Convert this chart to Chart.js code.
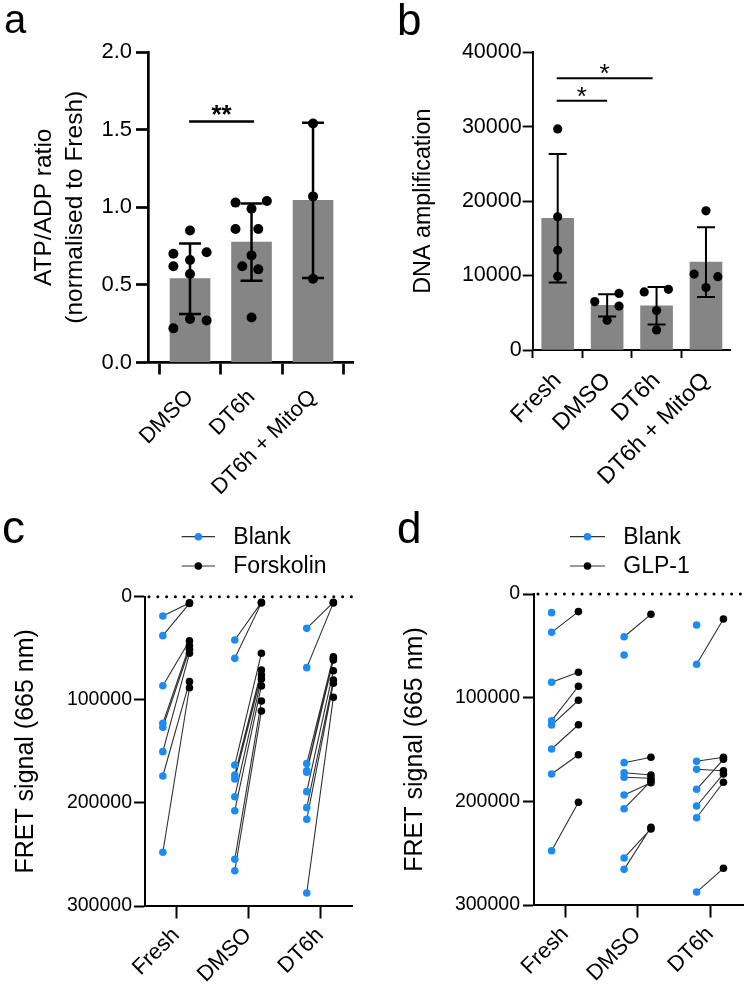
<!DOCTYPE html>
<html>
<head>
<meta charset="utf-8">
<title>ATP/ADP, DNA amplification and FRET panels</title>
<script src="https://cdn.jsdelivr.net/npm/chart.js@4.4.0/dist/chart.umd.min.js"></script>
<style>
  html, body { margin: 0; padding: 0; background: #fff; }
  #fig { position: relative; width: 749px; height: 988px; overflow: hidden; }
  #fig canvas { position: absolute; }
</style>
</head>
<body>
<div id="fig">
  <canvas id="chartC" width="375" height="498" style="left:0;top:490px"></canvas>
  <canvas id="chartD" width="374" height="498" style="left:375px;top:490px"></canvas>
  <canvas id="chartA" width="375" height="505" style="left:0;top:0"></canvas>
  <canvas id="chartB" width="374" height="505" style="left:375px;top:0"></canvas>
</div>
<script>
const FONT = '"Liberation Sans", Arial, Helvetica, sans-serif';
Chart.defaults.font.family = FONT;
Chart.defaults.color = '#000';
Chart.defaults.animation = false;

// ---- panel a: ATP/ADP ratio (normalised to Fresh) ----
const atpGroups = ['DMSO', 'DT6h', 'DT6h + MitoQ'];
const atpMean = [0.54, 0.775, 1.045];
const atpSD = [0.227, 0.249, 0.5];
const atpDots = [
  [0.85, 0.70, 0.66, 0.71, 0.62, 0.57, 0.22, 0.28, 0.27],
  [1.03, 1.04, 0.99, 0.86, 0.86, 0.69, 0.62, 0.60, 0.29],
  [1.54, 1.07, 0.54]
];
// horizontal scatter of the dots, in category units
const atpSpread = [
  [0, -0.27, 0, 0.27, -0.27, 0, -0.27, 0, 0.27],
  [-0.26, 0.25, 0, -0.26, 0.11, 0, -0.15, 0.11, 0],
  [0, 0, 0]
];
const atpSig = [{ from: 0.985, to: 2.04, y: 1.553, label: '**' }];

// ---- panel b: DNA amplification ----
const dnaGroups = ['Fresh', 'DMSO', 'DT6h', 'DT6h + MitoQ'];
const dnaMean = [17700, 6000, 5950, 11800];
const dnaSD = [8620, 1500, 2525, 4680];
const dnaDots = [
  [29700, 17900, 13400, 9900],
  [6500, 7600, 5900, 4000],
  [7800, 8150, 5300, 2700],
  [18700, 10200, 9850, 8400]
];
const dnaSpread = [
  [0, 0, 0, 0],
  [-0.25, 0.24, 0.24, 0],
  [-0.25, 0.24, 0, 0],
  [0, -0.24, 0.24, 0]
];
const dnaSig = [
  { from: 0.98, to: 2.92, y: 36500, label: '*' },
  { from: 0.98, to: 2.0, y: 33500, label: '*' }
];

// ---- panels c and d: FRET signal (665 nm), paired wells ----
const fretGroups = ['Fresh', 'DMSO', 'DT6h'];
const cBlank = [
  [18700, 37800, 86300, 122800, 126700, 150300, 173900, 247900],
  [42000, 59800, 163300, 172900, 176800, 194000, 207600, 254700, 265800],
  [30700, 68800, 161900, 168800, 170300, 189100, 204600, 215900, 287400]
];
const cForskolin = [
  [6000, 6500, 42700, 47500, 51000, 54900, 82400, 88300],
  [5500, 6000, 54800, 71100, 75900, 79800, 86500, 101200, 110800],
  [5500, 6000, 58200, 60000, 61400, 71800, 80800, 84000, 97600]
];
const dBlank = [
  [18000, 37000, 85200, 122200, 126400, 149500, 173600, 247600],
  [41200, 58800, 162700, 172500, 176700, 193900, 207100, 254600, 265600],
  [29900, 67800, 161400, 169100, 188400, 204500, 215800, 287500]
];
const dGLP1 = [
  [null, 17000, 75500, 89000, 102500, 126100, 155000, 200900],
  [19600, null, 157500, 174600, 177800, 182000, 180400, 226600, 225000],
  [null, 24100, 157500, 170500, 159500, 173600, 181600, 264600]
];
const fretTicks = [0, 100000, 200000, 300000];

const BLUE = '#1c8cf2';
const pairOffset = 0.185;

// error bars (mean +/- SD) drawn right after the bars
const errorBars = {
  id: 'errorBars',
  afterDatasetDraw(chart, args, opts) {
    const ds = chart.data.datasets[args.index];
    if (!ds.sd) return;
    const { ctx, scales: { x, y } } = chart;
    ctx.save();
    ctx.strokeStyle = '#000';
    ctx.lineWidth = opts.width;
    ds.data.forEach((pt, i) => {
      const px = x.getPixelForValue(pt.x);
      const top = y.getPixelForValue(pt.y + ds.sd[i]);
      const bot = y.getPixelForValue(pt.y - ds.sd[i]);
      ctx.beginPath();
      ctx.moveTo(px, top); ctx.lineTo(px, bot);
      ctx.moveTo(px - opts.cap, top); ctx.lineTo(px + opts.cap, top);
      ctx.moveTo(px - opts.cap, bot); ctx.lineTo(px + opts.cap, bot);
      ctx.stroke();
    });
    ctx.restore();
  }
};

// significance lines with asterisks
const sigBars = {
  id: 'sigBars',
  afterDraw(chart, args, opts) {
    if (!opts.items) return;
    const { ctx, scales: { x, y } } = chart;
    ctx.save();
    ctx.strokeStyle = '#000';
    ctx.fillStyle = '#000';
    ctx.lineWidth = opts.width;
    ctx.font = opts.font;
    ctx.textAlign = 'center';
    ctx.textBaseline = 'alphabetic';
    opts.items.forEach(it => {
      const x1 = x.getPixelForValue(it.from);
      const x2 = x.getPixelForValue(it.to);
      const py = y.getPixelForValue(it.y);
      ctx.beginPath();
      ctx.moveTo(x1, py); ctx.lineTo(x2, py);
      ctx.stroke();
      const m = ctx.measureText(it.label);
      ctx.fillText(it.label, (x1 + x2) / 2, py - opts.gap - m.actualBoundingBoxDescent);
    });
    ctx.restore();
  }
};

// panel letter, dotted zero line and the small legend
const decor = {
  id: 'decor',
  beforeDatasetsDraw(chart, args, opts) {
    if (!opts.zeroLine) return;
    const { ctx, chartArea, scales: { y } } = chart;
    const py = y.getPixelForValue(0);
    ctx.save();
    ctx.strokeStyle = '#000';
    ctx.lineWidth = 3;
    ctx.lineCap = 'round';
    ctx.setLineDash([0, 8.8]);
    ctx.beginPath();
    ctx.moveTo(chartArea.left + 4, py);
    ctx.lineTo(chartArea.right, py);
    ctx.stroke();
    ctx.restore();
  },
  afterDraw(chart, args, opts) {
    const { ctx } = chart;
    ctx.save();
    ctx.fillStyle = '#000';
    ctx.font = opts.letterSize + 'px ' + FONT;
    ctx.textBaseline = 'alphabetic';
    ctx.fillText(opts.letter, opts.letterX, opts.letterY);
    if (opts.legend) {
      const L = opts.legend;
      L.items.forEach((it, i) => {
        const ly = L.y + i * L.step;
        ctx.strokeStyle = '#333';
        ctx.lineWidth = 1.2;
        ctx.beginPath();
        ctx.moveTo(L.x1, ly); ctx.lineTo(L.x2, ly);
        ctx.stroke();
        ctx.fillStyle = it.color;
        ctx.beginPath();
        ctx.arc((L.x1 + L.x2) / 2, ly, 3.8, 0, Math.PI * 2);
        ctx.fill();
        ctx.fillStyle = '#000';
        ctx.font = L.size + 'px ' + FONT;
        ctx.textBaseline = 'middle';
        ctx.fillText(it.label, L.textX, ly + 1);
      });
    }
    ctx.restore();
  }
};

function axisStyle(w, tick) {
  return {
    grid: { drawOnChartArea: false, drawTicks: true, tickLength: tick, tickWidth: w, tickColor: '#000', color: '#000' },
    border: { display: true, color: '#000', width: w }
  };
}

function barPanel(id, o) {
  const bars = o.groups.map((g, i) => ({ x: i + 1, y: o.mean[i] }));
  const dots = [];
  o.dots.forEach((vals, i) => vals.forEach((v, j) => dots.push({ x: i + 1 + o.spread[i][j], y: v })));
  return new Chart(document.getElementById(id), {
    type: 'bar',
    data: {
      datasets: [
        { data: bars, sd: o.sd, backgroundColor: '#858585', barThickness: o.barWidth, order: 2 },
        { type: 'scatter', data: dots, pointRadius: o.dotR, pointBackgroundColor: '#000',
          pointBorderWidth: 0, order: 1 }
      ]
    },
    plugins: [errorBars, sigBars, decor],
    options: {
      responsive: false,
      animation: false,
      events: [],
      layout: { padding: o.pad },
      plugins: {
        legend: { display: false },
        tooltip: { enabled: false },
        errorBars: { width: o.lineW, cap: o.cap },
        sigBars: { items: o.sig, width: o.lineW, font: o.starFont, gap: o.starGap },
        decor: o.decor
      },
      scales: {
        x: Object.assign({
          type: 'linear', min: o.xMin, max: o.xMax, offset: false,
          afterFit: s => { s.height = o.xH; },
          afterBuildTicks: s => { s.ticks = o.groups.map((g, i) => ({ value: i + 1 })); },
          ticks: { callback: v => o.groups[v - 1], minRotation: 45, maxRotation: 45, autoSkip: false,
                   font: { size: o.xFont }, padding: o.xPad, color: '#000' }
        }, axisStyle(o.axisW, o.xTick)),
        y: Object.assign({
          min: 0, max: o.yMax,
          afterFit: s => { s.width = o.yW; },
          ticks: { stepSize: o.yStep, callback: o.yFmt, font: { size: o.yFont }, padding: o.yPad, color: '#000' },
          title: { display: true, text: o.yTitle, color: '#000',
                   font: { size: o.titleSize, lineHeight: o.titleLH }, padding: { top: o.titlePad, bottom: 0 } }
        }, axisStyle(o.axisW, o.yTick))
      }
    }
  });
}

function pairPanel(id, o) {
  const lines = [], base = [], treated = [];
  fretGroups.forEach((g, gi) => {
    const bx = gi + 1 - pairOffset, tx = gi + 1 + pairOffset;
    o.base[gi].forEach((v, i) => {
      const t = o.treated[gi][i];
      base.push({ x: bx, y: v });
      if (t == null) return;
      treated.push({ x: tx, y: t });
      lines.push({ x: bx, y: v }, { x: tx, y: t }, { x: tx, y: null });
    });
  });
  return new Chart(document.getElementById(id), {
    type: 'scatter',
    data: {
      datasets: [
        { type: 'line', data: lines, borderColor: '#303030', borderWidth: 1.1, pointRadius: 0,
          spanGaps: false, tension: 0, order: 3 },
        { data: base, pointRadius: 3.8, pointBackgroundColor: BLUE, pointBorderWidth: 0, order: 2 },
        { data: treated, pointRadius: 3.8, pointBackgroundColor: '#000', pointBorderWidth: 0, order: 1 }
      ]
    },
    plugins: [decor],
    options: {
      responsive: false,
      animation: false,
      events: [],
      layout: { padding: o.pad },
      plugins: {
        legend: { display: false },
        tooltip: { enabled: false },
        decor: o.decor
      },
      scales: {
        x: Object.assign({
          type: 'linear', min: o.xMin, max: o.xMax, offset: false,
          afterFit: s => { s.height = o.xH; },
          afterBuildTicks: s => { s.ticks = fretGroups.map((g, i) => ({ value: i + 1 })); },
          ticks: { callback: v => fretGroups[v - 1], minRotation: 45, maxRotation: 45, autoSkip: false,
                   font: { size: 22 }, padding: 4, color: '#000' }
        }, axisStyle(2, 12.5)),
        y: Object.assign({
          reverse: true, min: 0, max: 300000,
          afterFit: s => { s.width = o.yW; },
          afterBuildTicks: s => { s.ticks = fretTicks.map(v => ({ value: v })); },
          ticks: { callback: v => String(v), font: { size: 19.5 }, padding: o.yPad, color: '#000' },
          title: { display: true, text: 'FRET signal (665 nm)', color: '#000',
                   font: { size: 25, lineHeight: 1.2 }, padding: { top: o.titlePad, bottom: 0 } }
        }, axisStyle(2, 11))
      }
    }
  });
}

barPanel('chartA', {
  groups: atpGroups, mean: atpMean, sd: atpSD, dots: atpDots, spread: atpSpread, sig: atpSig,
  pad: { left: 0, top: 52, right: 22, bottom: 0 },
  xMin: 0.317, xMax: 3.65, xH: 142.5, yW: 148, yMax: 2, yStep: 0.5, yFmt: v => v.toFixed(1),
  barWidth: 40, dotR: 5, lineW: 2.5, cap: 11, axisW: 2.7, xTick: 12, yTick: 12,
  xFont: 22, yFont: 22, xPad: 10, yPad: 4,
  yTitle: ['ATP/ADP ratio', '(normalised to Fresh)'], titleSize: 24.5, titleLH: 1.28, titlePad: 28.5,
  starFont: 'bold 26px ' + FONT, starGap: 6.5,
  decor: { letter: 'a', letterSize: 40, letterX: 4, letterY: 33 }
});

barPanel('chartB', {
  groups: dnaGroups, mean: dnaMean, sd: dnaSD, dots: dnaDots, spread: dnaSpread, sig: dnaSig,
  pad: { left: 0, top: 52.3, right: 19, bottom: 0 },
  xMin: 0.494, xMax: 4.486, xH: 155, yW: 157.7, yMax: 40000, yStep: 10000, yFmt: v => String(v),
  barWidth: 32, dotR: 4.6, lineW: 2, cap: 9, axisW: 1.9, xTick: 8, yTick: 10,
  xFont: 23.5, yFont: 21.5, xPad: 9, yPad: 1,
  yTitle: 'DNA amplification', titleSize: 23.3, titleLH: 1.2, titlePad: 34.5,
  starFont: '26px ' + FONT, starGap: 4,
  decor: { letter: 'b', letterSize: 44, letterX: 22, letterY: 35 }
});

pairPanel('chartC', {
  base: cBlank, treated: cForskolin,
  pad: { left: 0, top: 106.7, right: 23, bottom: 0 },
  xMin: 0.567, xMax: 3.444, xH: 82, yW: 145, yPad: 2, titlePad: 11.3,
  decor: {
    letter: 'c', letterSize: 46, letterX: 2, letterY: 53, zeroLine: true,
    legend: { x1: 181.7, x2: 215, textX: 233.3, y: 46.7, step: 29.3, size: 23,
              items: [{ label: 'Blank', color: BLUE }, { label: 'Forskolin', color: '#000' }] }
  }
});

pairPanel('chartD', {
  base: dBlank, treated: dGLP1,
  pad: { left: 0, top: 104, right: 5.7, bottom: 0 },
  xMin: 0.572, xMax: 3.459, xH: 83, yW: 159, yPad: 3, titlePad: 25,
  decor: {
    letter: 'd', letterSize: 44, letterX: 22, letterY: 53, zeroLine: true,
    legend: { x1: 195, x2: 230, textX: 248.3, y: 46.7, step: 29.3, size: 23,
              items: [{ label: 'Blank', color: BLUE }, { label: 'GLP-1', color: '#000' }] }
  }
});
</script>
</body>
</html>
